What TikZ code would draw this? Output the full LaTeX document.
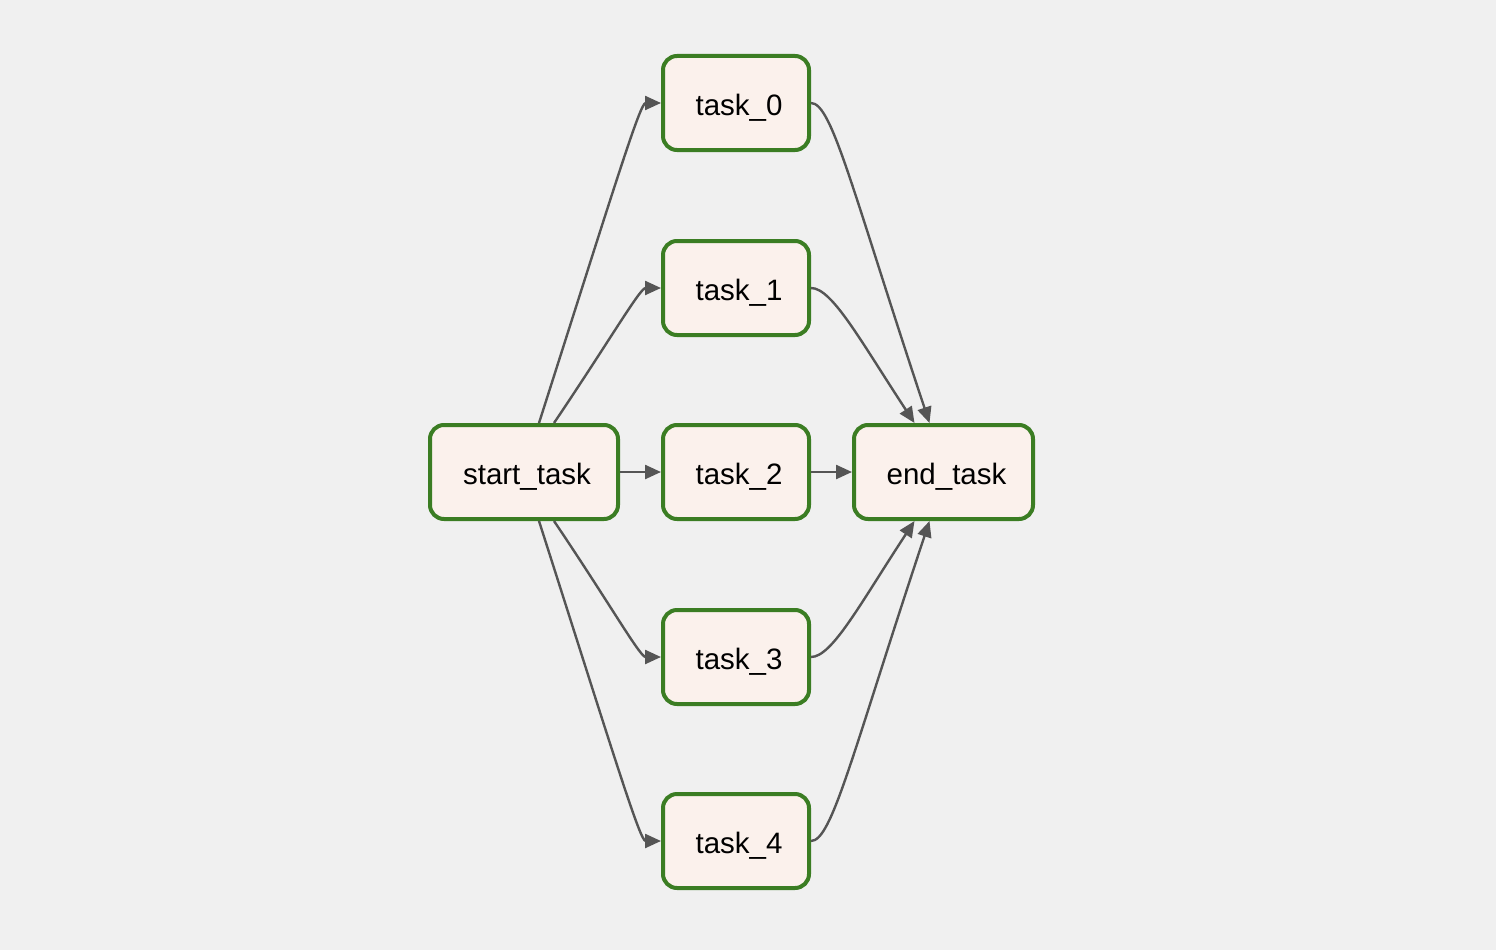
\documentclass[tikz,border=0pt]{standalone}
\usepackage{fontspec}
\setmainfont{Liberation Sans}
\usetikzlibrary{arrows.meta}
\definecolor{bg}{HTML}{F0F0F0}
\definecolor{nodefill}{HTML}{FBF1EC}
\definecolor{nodeborder}{HTML}{3B7D23}
\definecolor{edgecol}{HTML}{555555}
\begin{document}
\begin{tikzpicture}[x=1pt,y=-1pt,
  taskbox/.style={draw=nodeborder, fill=nodefill, line width=4pt, rounded corners=14pt,
    minimum height=94pt, inner sep=0pt, text depth=0pt, text height=24pt,
    font=\fontsize{29.5}{32}\selectfont},
  edge/.style={draw=edgecol, line width=2.4pt, -{Triangle[length=16pt,width=14pt]}}]
\fill[bg] (0,0) rectangle (1496,950);
\useasboundingbox (0,0) rectangle (1496,950);
\node[taskbox, minimum width=188pt] (start) at (524,472) {\hspace*{6pt}start\_task};
\node[taskbox, minimum width=146pt] (t0) at (736,103) {\hspace*{6pt}task\_0};
\node[taskbox, minimum width=146pt] (t1) at (736,288) {\hspace*{6pt}task\_1};
\node[taskbox, minimum width=146pt] (t2) at (736,472) {\hspace*{6pt}task\_2};
\node[taskbox, minimum width=146pt] (t3) at (736,657) {\hspace*{6pt}task\_3};
\node[taskbox, minimum width=146pt] (t4) at (736,841) {\hspace*{6pt}task\_4};
\node[taskbox, minimum width=179pt] (end) at (943.5,472) {\hspace*{6pt}end\_task};
% start -> tasks
\draw[edge] ([xshift=15pt]start.north) .. controls (615,185) and (640,103) .. (t0.west);
\draw[edge] ([xshift=30pt]start.north) .. controls (610,340) and (640,288) .. (t1.west);
\draw[edge] (start.east) -- (t2.west);
\draw[edge] ([xshift=30pt]start.south) .. controls (610,604) and (640,657) .. (t3.west);
\draw[edge] ([xshift=15pt]start.south) .. controls (615,759) and (640,841) .. (t4.west);
% tasks -> end
\draw[edge] (t0.east) .. controls (832,103) and (852,190) .. ([xshift=-14pt]end.north);
\draw[edge] (t1.east) .. controls (832,288) and (860,340) .. ([xshift=-29pt]end.north);
\draw[edge] (t2.east) -- (end.west);
\draw[edge] (t3.east) .. controls (832,657) and (860,604) .. ([xshift=-29pt]end.south);
\draw[edge] (t4.east) .. controls (832,841) and (852,754) .. ([xshift=-14pt]end.south);
\end{tikzpicture}
\end{document}
